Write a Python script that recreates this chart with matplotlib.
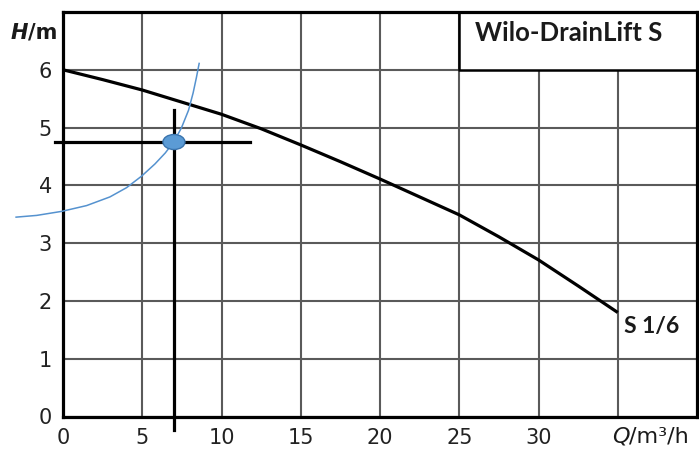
import matplotlib.pyplot as plt
from matplotlib.patches import Ellipse, Rectangle

# pump curve S 1/6 (Q in m³/h, H in m)
q_pump = [0, 2.5, 5, 7.5, 10, 12.5, 15, 17.5, 20, 22.5, 25, 27.5, 30, 32.5, 35]
h_pump = [6.0, 5.83, 5.65, 5.44, 5.23, 4.98, 4.70, 4.41, 4.11, 3.80, 3.49, 3.11, 2.71, 2.26, 1.80]

# system curve
q_sys = [-2.96, -1.66, -0.08, 1.49, 2.96, 4.01, 4.96, 5.80, 6.45, 7.01, 7.48, 7.92, 8.21, 8.42, 8.59]
h_sys = [3.45, 3.48, 3.55, 3.65, 3.80, 3.96, 4.16, 4.37, 4.56, 4.76, 5.00, 5.30, 5.60, 5.87, 6.11]

# duty point
q_duty = 7.0
h_duty = 4.75

x_ticks = [0, 5, 10, 15, 20, 25, 30, 35]
x_labels = ['0', '5', '10', '15', '20', '25', '30', '']
y_ticks = [0, 1, 2, 3, 4, 5, 6]

W, H = 699, 450
fig = plt.figure(figsize=(W / 100, H / 100), dpi=100)
ax = fig.add_axes([63 / W, 1 - 416.5 / H, (697 - 63) / W, (416.5 - 12) / H])
ax.set_xlim(0, 40)
ax.set_ylim(0, 7)

ax.set_xticks(x_ticks)
ax.set_xticklabels(x_labels)
ax.set_yticks(y_ticks)
ax.tick_params(length=0, pad=8, labelsize=15, colors='#222222')
ax.set_axisbelow(True)
ax.grid(True, color='#5a5a5a', lw=1.5)
for s in ax.spines.values():
    s.set_linewidth(2.3)
    s.set_color('black')

# name box in the top right corner
ax.add_patch(Rectangle((25, 6), 15, 1, facecolor='white', edgecolor='none', zorder=1))
ax.plot([25, 25, 40], [7, 6, 6], color='black', lw=1.8, zorder=1.5)
ax.text(26.0, 6.63, 'Wilo-DrainLift S', fontsize=18.5, fontweight='bold',
        family='Lato', color='#1a1a1a', va='center', ha='left')

ax.plot(q_pump, h_pump, color='black', lw=2.3, solid_capstyle='butt', zorder=3)
ax.text(35.4, 1.55, 'S 1/6', fontsize=16.5, fontweight='bold', family='Lato',
        color='#1a1a1a', va='center', ha='left')

ax.plot(q_sys, h_sys, color='#5592cf', lw=1.1, zorder=4, clip_on=False)

# duty point cross-hair
ax.plot([-0.5, 11.8], [h_duty, h_duty], color='black', lw=2.3, zorder=5, clip_on=False)
ax.plot([q_duty, q_duty], [5.30, -0.23], color='black', lw=2.3, zorder=5, clip_on=False)
ax.add_patch(Ellipse((q_duty, h_duty), 22 / 15.85, 15 / 57.8, facecolor='#5b9bd5',
                     edgecolor='#3a74ad', lw=1, zorder=6))

# axis titles
t_h = ax.text(-0.38, 6.64, '/m', fontsize=15, fontweight='bold', color='#1a1a1a',
              ha='right', va='center', clip_on=False)
ax.annotate('H', xy=(0, 0.5), xycoords=t_h, fontsize=15, fontweight='bold',
            fontstyle='italic', color='#1a1a1a', ha='right', va='center')
t_q = ax.text(39.5, -0.34, '/m³/h', fontsize=16, color='#1a1a1a',
              ha='right', va='center', clip_on=False)
ax.annotate('Q', xy=(0, 0.5), xycoords=t_q, fontsize=16, fontstyle='italic',
            color='#1a1a1a', ha='right', va='center')

fig.savefig('out.png', dpi=100, facecolor='white')
